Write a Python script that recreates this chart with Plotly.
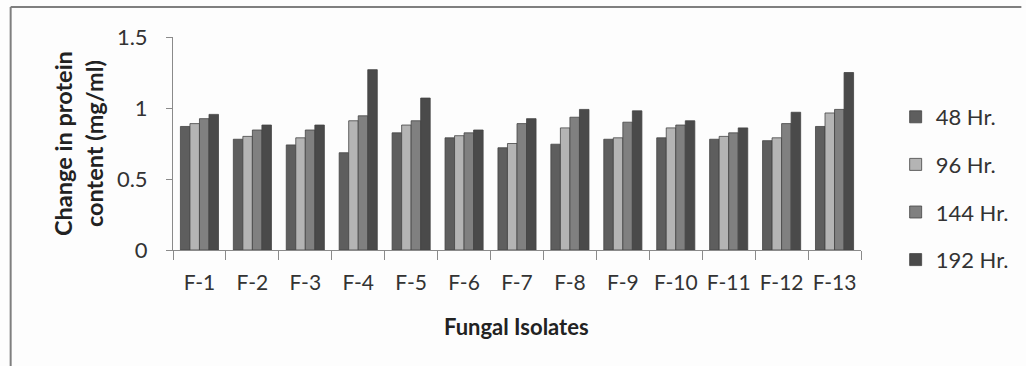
import plotly.graph_objects as go

categories = ["F-1", "F-2", "F-3", "F-4", "F-5", "F-6", "F-7", "F-8", "F-9", "F-10", "F-11", "F-12", "F-13"]
series_names = ["48 Hr.", "96 Hr.", "144 Hr.", "192 Hr."]
hr48 = [0.87, 0.78, 0.74, 0.685, 0.825, 0.79, 0.72, 0.745, 0.78, 0.79, 0.78, 0.77, 0.87]
hr96 = [0.89, 0.80, 0.79, 0.91, 0.88, 0.805, 0.75, 0.86, 0.79, 0.86, 0.80, 0.79, 0.965]
hr144 = [0.925, 0.845, 0.845, 0.945, 0.91, 0.825, 0.89, 0.935, 0.90, 0.88, 0.825, 0.89, 0.99]
hr192 = [0.955, 0.88, 0.88, 1.27, 1.07, 0.845, 0.925, 0.99, 0.98, 0.91, 0.86, 0.97, 1.25]
colors = ["#5e5e5e", "#b4b4b4", "#808080", "#4a4a4a"]

FONT = "Lato, Calibri, Carlito, sans-serif"
fig = go.Figure()
for i, (name, vals) in enumerate(zip(series_names, [hr48, hr96, hr144, hr192])):
    fig.add_trace(go.Bar(
        x=categories, y=vals, name=name, legendgroup=name,
        marker=dict(color=colors[i], line=dict(color="#444444", width=0.8)),
    ))

L, R, T, B = 173, 158, 37, 116
W, H = 1026, 366
pw, ph = W - L - R, H - T - B

def px(xp):
    return (xp - L) / pw

def py(yp):
    return (H - B - yp) / ph

fig.update_layout(
    width=W, height=H,
    margin=dict(l=L, r=R, t=T, b=B),
    paper_bgcolor="#fdfdfd", plot_bgcolor="#fdfdfd",
    barmode="group", bargap=0.28, bargroupgap=0,
    font=dict(family=FONT, size=21, color="#333333"),
    showlegend=True,
    legend=dict(x=px(903), y=py(96), xanchor="left", yanchor="top",
                tracegroupgap=16, font=dict(size=22, color="#333333"),
                itemwidth=30, bgcolor="rgba(0,0,0,0)"),
    xaxis=dict(showline=True, linecolor="#8a8a8a", linewidth=1,
               ticks="outside", tickson="boundaries", ticklen=9, tickcolor="#8a8a8a",
               showgrid=False, zeroline=False, ticklabelstandoff=14,
               tickfont=dict(size=21, color="#333333")),
    yaxis=dict(range=[0, 1.5], dtick=0.5, showline=True, linecolor="#8a8a8a", linewidth=1,
               ticks="outside", ticklen=6, tickcolor="#8a8a8a", showgrid=False,
               zeroline=False, ticklabelstandoff=14, tickfont=dict(size=22, color="#333333")),
    annotations=[
        dict(text="<b>Change in protein<br>content (mg/ml)</b>", textangle=-90,
             x=px(77), y=py(143), xref="paper", yref="paper",
             xanchor="center", yanchor="middle", showarrow=False,
             font=dict(size=23.5, color="#222222")),
        dict(text="<b>Fungal Isolates</b>", x=px(520), y=py(326), xref="paper", yref="paper",
             xanchor="center", yanchor="middle", showarrow=False,
             font=dict(size=22, color="#222222")),
    ],
    shapes=[
        dict(type="line", xref="paper", yref="paper", x0=px(9), x1=px(1030), y0=py(7), y1=py(7),
             line=dict(color="#7f7f7f", width=2)),
        dict(type="line", xref="paper", yref="paper", x0=px(9), x1=px(9), y0=py(7), y1=py(370),
             line=dict(color="#7f7f7f", width=2)),
    ],
)
fig.write_html("out.html")
